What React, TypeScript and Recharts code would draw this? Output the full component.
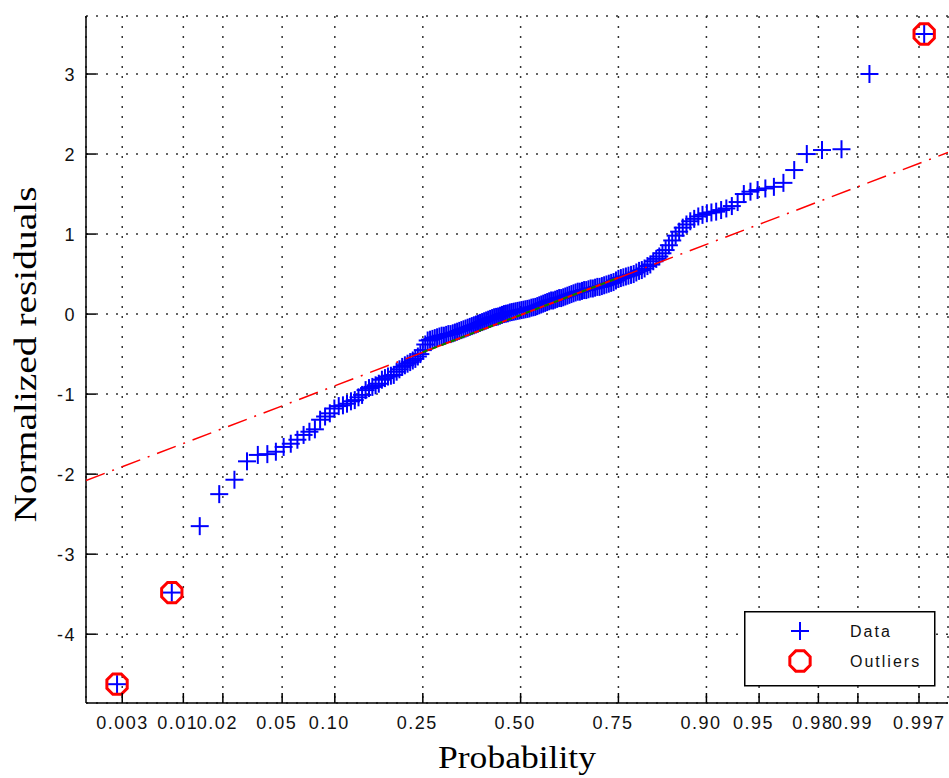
import React from 'react';
import { ScatterChart, Scatter, XAxis, YAxis, CartesianGrid, Legend, Label } from 'recharts';

// sorted normalized residuals (n = 186)
const residuals = [
  -4.625, -3.48, -2.65, -2.25, -2.07, -1.84, -1.76, -1.75, -1.72, -1.66,
  -1.62, -1.57, -1.51, -1.47, -1.44, -1.32, -1.28, -1.24, -1.18, -1.15,
  -1.14, -1.12, -1.09, -1.075, -1.04, -1.01, -0.95, -0.925, -0.91, -0.89,
  -0.87, -0.82, -0.8, -0.78, -0.77, -0.76, -0.72, -0.69, -0.66, -0.64,
  -0.62, -0.6, -0.58, -0.56, -0.53, -0.5, -0.45, -0.38, -0.33, -0.32,
  -0.31, -0.3, -0.29, -0.28, -0.27, -0.27, -0.26, -0.25, -0.25, -0.24,
  -0.23, -0.22, -0.21, -0.2, -0.19, -0.18, -0.17, -0.16, -0.15, -0.14,
  -0.13, -0.12, -0.11, -0.1, -0.09, -0.08, -0.07, -0.06, -0.05, -0.04,
  -0.035, -0.03, -0.02, -0.01, 0.0, 0.005, 0.01, 0.02, 0.025, 0.03,
  0.035, 0.04, 0.045, 0.05, 0.055, 0.06, 0.065, 0.07, 0.08, 0.085,
  0.09, 0.1, 0.11, 0.12, 0.13, 0.14, 0.15, 0.16, 0.17, 0.17,
  0.18, 0.19, 0.2, 0.2, 0.21, 0.22, 0.23, 0.24, 0.25, 0.26,
  0.27, 0.28, 0.28, 0.29, 0.3, 0.3, 0.31, 0.32, 0.32, 0.33,
  0.34, 0.34, 0.35, 0.36, 0.37, 0.38, 0.39, 0.4, 0.42, 0.44,
  0.45, 0.46, 0.47, 0.48, 0.49, 0.5, 0.52, 0.54, 0.55, 0.57,
  0.6, 0.62, 0.66, 0.69, 0.72, 0.76, 0.8, 0.86, 0.92, 0.98,
  1.03, 1.08, 1.12, 1.16, 1.19, 1.22, 1.24, 1.26, 1.27, 1.28,
  1.3, 1.32, 1.35, 1.4, 1.5, 1.53, 1.55, 1.57, 1.59, 1.64,
  1.8, 2.0, 2.05, 2.06, 3.0, 3.5,
];
const outlierRanks = [1, 2, 186];

const probTicks = [0.003, 0.01, 0.02, 0.05, 0.1, 0.25, 0.5, 0.75, 0.9, 0.95, 0.98, 0.99, 0.997];
const probTickLabels = ['0.003', '0.01', '0.02', '0.05', '0.10', '0.25', '0.50', '0.75', '0.90', '0.95', '0.98', '0.99', '0.997'];
const residualTicks = [-4, -3, -2, -1, 0, 1, 2, 3];
const probLimits = [0.00136, 0.9984];
const residualLimits = [-4.86, 3.725];

// fitted reference line: dash-dot over the whole axis, solid between the quartiles
const refProbs = [0.00136, 0.9984];
const refValues = [-2.08, 2.02];
const quartileProbs = [0.25, 0.75];
const quartileValues = [-0.476, 0.454];

// inverse normal cdf (Acklam), used for the probability axis
function probit(p: number) {
  const a = [-39.69683028665376, 220.9460984245205, -275.9285104469687, 138.357751867269, -30.66479806614716, 2.506628277459239];
  const b = [-54.47609879822406, 161.5858368580409, -155.6989798598866, 66.80131188771972, -13.28068155288572];
  const c = [-0.007784894002430293, -0.3223964580411365, -2.400758277161838, -2.549671680829195, 4.374664141464968, 2.938163982698783];
  const d = [0.007784695709041462, 0.3224671290700398, 2.445134137142996, 3.754408661907416];
  const plow = 0.02425;
  if (p < plow) {
    const q = Math.sqrt(-2 * Math.log(p));
    return (((((c[0] * q + c[1]) * q + c[2]) * q + c[3]) * q + c[4]) * q + c[5]) / ((((d[0] * q + d[1]) * q + d[2]) * q + d[3]) * q + 1);
  }
  if (p <= 1 - plow) {
    const q = p - 0.5;
    const r = q * q;
    return ((((((a[0] * r + a[1]) * r + a[2]) * r + a[3]) * r + a[4]) * r + a[5]) * q) / (((((b[0] * r + b[1]) * r + b[2]) * r + b[3]) * r + b[4]) * r + 1);
  }
  const q = Math.sqrt(-2 * Math.log(1 - p));
  return -(((((c[0] * q + c[1]) * q + c[2]) * q + c[3]) * q + c[4]) * q + c[5]) / ((((d[0] * q + d[1]) * q + d[2]) * q + d[3]) * q + 1);
}

const n = residuals.length;
const points = residuals.map((v, i) => ({ z: probit((i + 0.5) / n), v }));
const outliers = outlierRanks.map((r) => points[r - 1]);
const refLine = refProbs.map((p, i) => ({ z: probit(p), v: refValues[i] }));
const quartileLine = quartileProbs.map((p, i) => ({ z: probit(p), v: quartileValues[i] }));
const zTicks = probTicks.map(probit);
const zDomain = probLimits.map(probit);

const sans = '"Liberation Sans", Arial, sans-serif';
const serif = '"Liberation Serif", "Times New Roman", serif';

function octagon(cx: number, cy: number, r: number) {
  const pts = [];
  for (let k = 0; k < 8; k++) {
    const a = Math.PI / 8 + (k * Math.PI) / 4;
    pts.push(`${cx + r * Math.cos(a)},${cy + r * Math.sin(a)}`);
  }
  return pts.join(' ');
}

const PlusMark = (props: any) => {
  const { cx, cy } = props;
  return (
    <g>
      <line x1={cx - 9} y1={cy} x2={cx + 9} y2={cy} stroke="#0000ff" strokeWidth={2} />
      <line x1={cx} y1={cy - 9} x2={cx} y2={cy + 9} stroke="#0000ff" strokeWidth={2} />
    </g>
  );
};

const OutlierMark = (props: any) => (
  <polygon points={octagon(props.cx, props.cy, 11)} fill="none" stroke="#ff0000" strokeWidth={3} />
);

const NoMark = () => <g />;

const BottomTick = (props: any) => {
  const { x, y, index } = props;
  return (
    <g>
      <line x1={x} y1={y} x2={x} y2={y - 10} stroke="#000" strokeWidth={1.5} />
      <text x={x - 26} y={y + 26} textAnchor="start" fontFamily={sans} fontSize={18} letterSpacing={1.5} fill="#111">
        {probTickLabels[index]}
      </text>
    </g>
  );
};

const TopTick = (props: any) => (
  <line x1={props.x} y1={props.y} x2={props.x} y2={props.y + 10} stroke="#000" strokeWidth={1.5} />
);

const LeftTick = (props: any) => {
  const { x, y, payload } = props;
  return (
    <g>
      <line x1={x} y1={y} x2={x + 10} y2={y} stroke="#000" strokeWidth={1.5} />
      <text x={x - 10} y={y + 6.5} textAnchor="end" fontFamily={sans} fontSize={18} letterSpacing={1.5} fill="#111">
        {payload.value}
      </text>
    </g>
  );
};

const RightTick = (props: any) => (
  <line x1={props.x} y1={props.y} x2={props.x - 10} y2={props.y} stroke="#000" strokeWidth={1.5} />
);

const XTitle = (props: any) => {
  const vb = props.viewBox;
  return (
    <text x={vb.x + vb.width / 2} y={vb.y + 65} textAnchor="middle" fontFamily={serif} fontSize={31}
      textLength={158} lengthAdjust="spacingAndGlyphs" fill="#000">
      Probability
    </text>
  );
};

const YTitle = (props: any) => {
  const vb = props.viewBox;
  const cx = 36;
  const cy = vb.y + vb.height / 2 - 5;
  return (
    <text x={cx} y={cy} transform={`rotate(-90 ${cx} ${cy})`} textAnchor="middle" fontFamily={serif} fontSize={31}
      textLength={336} lengthAdjust="spacingAndGlyphs" fill="#000">
      Normalized residuals
    </text>
  );
};

const LegendBox = () => (
  <svg width={192} height={76}>
    <rect x={0.75} y={0.75} width={190} height={74} fill="#fff" stroke="#000" strokeWidth={1.5} />
    <PlusMark cx={56} cy={20} />
    <text x={106} y={26} fontFamily={sans} fontSize={16} letterSpacing={2} fill="#111">Data</text>
    <polygon points={octagon(56, 50, 11)} fill="none" stroke="#ff0000" strokeWidth={3} />
    <text x={106} y={56} fontFamily={sans} fontSize={16} letterSpacing={2} fill="#111">Outliers</text>
  </svg>
);

export default function App() {
  return (
    <div style={{ position: 'absolute', left: 0, top: 0, width: 949, height: 778, background: '#fff' }}>
      <ScatterChart width={949} height={778} margin={{ top: 16, right: 1, bottom: 0, left: 0 }}>
        <CartesianGrid stroke="#333" strokeWidth={1.5} strokeDasharray="2 8" />
        <XAxis
          type="number"
          dataKey="z"
          domain={zDomain}
          ticks={zTicks}
          allowDataOverflow
          height={75}
          tickSize={0}
          tickMargin={0}
          tickLine={false}
          tick={<BottomTick />}
          axisLine={{ stroke: '#000', strokeWidth: 1.5 }}
          interval={0}
          label={<Label content={<XTitle />} />}
        />
        <XAxis
          xAxisId="top"
          orientation="top"
          type="number"
          dataKey="z"
          domain={zDomain}
          ticks={zTicks}
          allowDataOverflow
          height={0}
          tickSize={0}
          tickMargin={0}
          tickLine={false}
          tick={<TopTick />}
          axisLine={{ stroke: '#000', strokeWidth: 1.5 }}
          interval={0}
        />
        <YAxis
          type="number"
          dataKey="v"
          domain={residualLimits}
          ticks={residualTicks}
          allowDataOverflow
          width={86}
          tickSize={0}
          tickMargin={0}
          tickLine={false}
          tick={<LeftTick />}
          axisLine={{ stroke: '#000', strokeWidth: 1.5 }}
          interval={0}
          label={<Label content={<YTitle />} />}
        />
        <YAxis
          yAxisId="right"
          orientation="right"
          type="number"
          dataKey="v"
          domain={residualLimits}
          ticks={residualTicks}
          allowDataOverflow
          width={0}
          tickSize={0}
          tickMargin={0}
          tickLine={false}
          tick={<RightTick />}
          axisLine={{ stroke: '#000', strokeWidth: 1.5 }}
          interval={0}
        />
        <Scatter name="Data" data={points} dataKey="v" shape={<PlusMark />} isAnimationActive={false} />
        <Scatter
          data={refLine}
          dataKey="v"
          shape={<NoMark />}
          line={{ stroke: '#ff0000', strokeWidth: 1.5, strokeDasharray: '20 8 2 8' }}
          isAnimationActive={false}
        />
        <Scatter
          data={quartileLine}
          dataKey="v"
          shape={<NoMark />}
          line={{ stroke: '#ff0000', strokeWidth: 2 }}
          isAnimationActive={false}
        />
        <Scatter
          data={quartileLine}
          dataKey="v"
          shape={<NoMark />}
          line={{ stroke: '#008000', strokeWidth: 2, strokeDasharray: '5 5' }}
          isAnimationActive={false}
        />
        <Scatter name="Outliers" data={outliers} dataKey="v" shape={<OutlierMark />} isAnimationActive={false} />
        <Legend
          layout="vertical"
          align="center"
          verticalAlign="middle"
          content={<LegendBox />}
          wrapperStyle={{ left: 744, top: 611, width: 192, height: 76 }}
        />
      </ScatterChart>
    </div>
  );
}
